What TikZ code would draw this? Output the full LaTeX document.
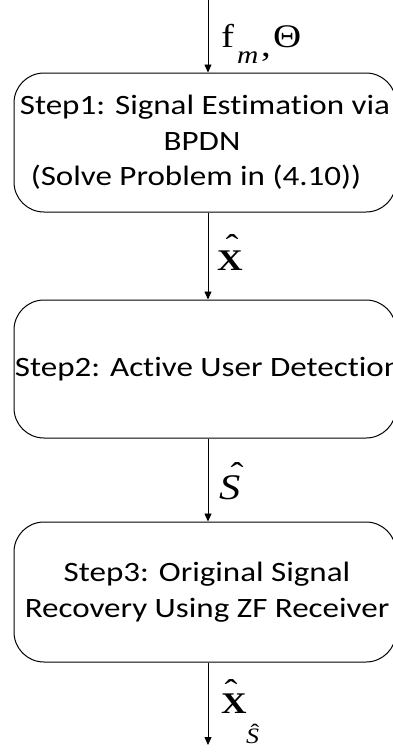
\documentclass[tikz,border=0pt]{standalone}
\usepackage{fontspec}
\setmainfont{Carlito}[FakeStretch=1.18, Ligatures=CommonOff]
\newfontfamily\symfont{Liberation Serif}[FakeStretch=1.18]
\usetikzlibrary{arrows.meta}
\begin{document}
\begin{tikzpicture}[x=1pt,y=-1pt,
  stage/.style={draw, line width=1pt, rounded corners=30pt,
    minimum width=382pt, inner sep=0pt},
  stagetext/.style={align=center, inner sep=0pt,
    font=\fontsize{28}{35.5}\selectfont},
  flow/.style={line width=0.8pt, -{Triangle[length=8pt,width=7pt]}},
  sym/.style={inner sep=0pt, anchor=base west,
    font=\symfont\fontsize{33}{33}\selectfont},
  bigx/.style={sym, font=\symfont\bfseries\fontsize{30}{30}\selectfont},
  bigs/.style={sym, font=\symfont\itshape\fontsize{36}{36}\selectfont},
  hatmark/.style={inner sep=0pt, anchor=base,
    font=\symfont\fontsize{33}{33}\selectfont},
  subsym/.style={inner sep=0pt, anchor=base west,
    font=\symfont\itshape\fontsize{22}{22}\selectfont},
  subhat/.style={inner sep=0pt, anchor=base,
    font=\symfont\fontsize{22}{22}\selectfont}]
\useasboundingbox (0,0) rectangle (393,753);
\fill[white] (0,0) rectangle (393,753);
\clip (0,0) rectangle (393,753);

% processing stages
\node[stage, minimum height=139pt] (b1) at (205,142.5) {};
\node[stage, minimum height=138pt] (b2) at (205,369) {};
\node[stage, minimum height=140pt] (b3) at (205,592) {};

\node[stagetext] (t1) at (b1) {Step1: Signal Estimation via\\BPDN\hbox to 6pt{}\\(Solve Problem in (4.10))\hbox to 18pt{}};
\node[stagetext, xshift=3pt] (t2) at (b2) {Step2: Active User Detection};
\node[stagetext, xshift=2pt] (t3) at (b3) {Step3: Original Signal\\Recovery Using ZF Receiver};

% input and output ends of the flow
\coordinate (in) at (208,0);
\coordinate (out) at (208,745);

\draw[flow] (in) -- (in |- b1.north);
\draw[flow] (in |- b1.south) -- (in |- b2.north);
\draw[flow] (in |- b2.south) -- (in |- b3.north);
\draw[flow] (in |- b3.south) -- (out);

% input: f_m, Theta
\node[sym] (f) at (221,47) {f};
\node[subsym, font=\symfont\itshape\fontsize{25}{25}\selectfont] (m) at (237,63) {m};
\node[sym] (comma) at (261,56) {,};
\node[sym] (theta) at (273,47) {Θ};

% estimated signal x-hat
\node[bigx] (x1) at (217,270) {X};
\node[hatmark] (h1) at (232,257) {ˆ};

% detected support S-hat
\node[bigs] (s1) at (219,499) {S};
\node[hatmark] (h2) at (237,485) {ˆ};

% recovered signal x-hat restricted to S-hat
\node[bigx] (x2) at (221,713) {X};
\node[hatmark] (h3) at (231,702) {ˆ};
\node[subsym] (s2) at (246,743) {S};
\node[subhat] (h4) at (255,739) {ˆ};
\end{tikzpicture}
\end{document}
